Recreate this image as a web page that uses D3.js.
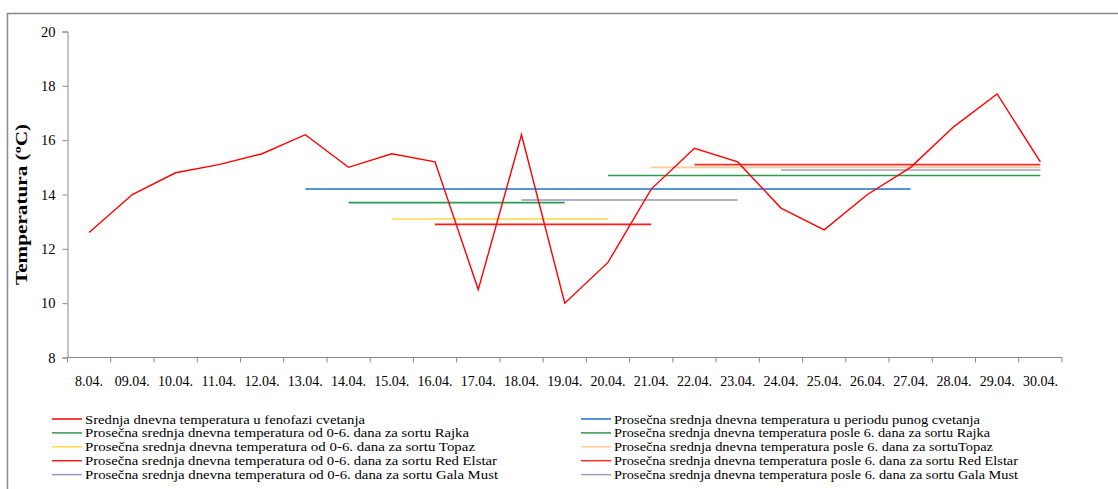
<!DOCTYPE html>
<html>
<head>
<meta charset="utf-8">
<script src="https://cdn.jsdelivr.net/npm/d3@7"></script>
<style>
  html, body { margin: 0; padding: 0; background: #fff; }
  svg { display: block; }
  text { font-family: "Liberation Serif", "Times New Roman", serif; fill: #000; }
</style>
</head>
<body>
<svg id="chart" width="1118" height="489"></svg>
<script>
// ---- data ----
const categories = ["8.04.", "09.04.", "10.04.", "11.04.", "12.04.", "13.04.", "14.04.", "15.04.", "16.04.", "17.04.", "18.04.", "19.04.", "20.04.", "21.04.", "22.04.", "23.04.", "24.04.", "25.04.", "26.04.", "27.04.", "28.04.", "29.04.", "30.04."];
const dailyTemp = [12.6, 14.0, 14.8, 15.1, 15.5, 16.2, 15.0, 15.5, 15.2, 10.5, 16.2, 10.0, 11.5, 14.2, 15.7, 15.2, 13.5, 12.7, 14.0, 15.0, 16.5, 17.7, 15.2];
const yTicks = [8, 10, 12, 14, 16, 18, 20];

// average segments: name, value, from category, to category
const avgNames = [
  "Prosečna srednja dnevna temperatura u periodu punog cvetanja",
  "Prosečna srednja dnevna temperatura od 0-6. dana za sortu Rajka",
  "Prosečna srednja dnevna temperatura posle 6. dana za sortu Rajka",
  "Prosečna srednja dnevna temperatura od 0-6. dana za sortu Topaz",
  "Prosečna srednja dnevna temperatura posle 6. dana za sortuTopaz",
  "Prosečna srednja dnevna temperatura od 0-6. dana za sortu Red Elstar",
  "Prosečna srednja dnevna temperatura posle 6. dana za sortu Red Elstar",
  "Prosečna srednja dnevna temperatura od 0-6. dana za sortu Gala Must",
  "Prosečna srednja dnevna temperatura posle 6. dana za sortu Gala Must"
];
const avgValues = [14.2, 13.7, 14.7, 13.1, 15.0, 12.9, 15.1, 13.8, 14.9];
const avgFrom = ["13.04.", "14.04.", "20.04.", "15.04.", "21.04.", "16.04.", "22.04.", "18.04.", "24.04."];
const avgTo   = ["27.04.", "19.04.", "30.04.", "20.04.", "30.04.", "21.04.", "30.04.", "23.04.", "30.04."];
const avgColors = ["#1f6fd6", "#2e9a52", "#2e9a52", "#ffd848", "#ffcc9a", "#ff1a1a", "#ff2a2a", "#9797bd", "#9f9fc4"];
const dailyName = "Srednja dnevna temperatura u fenofazi cvetanja";
const dailyColor = "#ff0000";
const yTitle = "Temperatura (ºC)";

// ---- layout ----
const svg = d3.select("#chart");
const mLeft = 67.5, mRight = 1062, mTop = 31.5, mBottom = 357.5;
// rendered text widths of the legend entries (layout, left column then right column)
const legLeftWidths = [280, 384, 390, 412, 413];
const legRightWidths = [366, 376, 379, 404, 404];

// outer frame (top + left edges visible)
svg.append("path")
  .attr("d", `M7.5,489 V13.5 H1118`)
  .attr("fill", "none").attr("stroke", "#888").attr("stroke-width", 1.5);

const x = d3.scaleBand().domain(categories).range([mLeft, mRight]).paddingInner(0).paddingOuter(0);
const y = d3.scaleLinear().domain([8, 20]).range([mBottom, mTop]);
const cx = c => x(c) + x.bandwidth() / 2;

// y axis
const yAxis = svg.append("g").attr("transform", `translate(${mLeft},0)`)
  .call(d3.axisLeft(y).tickValues(yTicks).tickSize(5).tickPadding(7).tickFormat(d3.format("d")));
yAxis.selectAll("path, line").attr("stroke", "#888");
yAxis.selectAll("text").attr("font-size", "14.5px").attr("font-family", "Liberation Serif, serif");

// x axis (ticks at band boundaries)
const xAxisG = svg.append("g").attr("transform", `translate(0,${mBottom})`);
xAxisG.append("line").attr("x1", mLeft).attr("x2", mRight).attr("stroke", "#888");
const bounds = categories.map(c => x(c)).concat([mRight]);
xAxisG.selectAll("line.tk").data(bounds).enter().append("line")
  .attr("class", "tk").attr("x1", d => d).attr("x2", d => d).attr("y1", 0).attr("y2", 5)
  .attr("stroke", "#888");
xAxisG.selectAll("text").data(categories).enter().append("text")
  .attr("x", d => cx(d)).attr("y", 28).attr("text-anchor", "middle")
  .attr("font-size", "14px").text(d => d);

// y title
svg.append("text")
  .attr("transform", `translate(26.5,204.5) rotate(-90)`)
  .attr("text-anchor", "middle").attr("font-weight", "bold").attr("font-size", "16px")
  .attr("textLength", 161).attr("lengthAdjust", "spacingAndGlyphs")
  .text(yTitle);

// average segments
avgNames.forEach((n, i) => {
  svg.append("line")
    .attr("x1", cx(avgFrom[i])).attr("x2", cx(avgTo[i]))
    .attr("y1", y(avgValues[i])).attr("y2", y(avgValues[i]))
    .attr("stroke", avgColors[i]).attr("stroke-width", 1.6);
});

// daily line
svg.append("path")
  .datum(dailyTemp)
  .attr("fill", "none").attr("stroke", dailyColor).attr("stroke-width", 1.4)
  .attr("d", d3.line().x((d, i) => cx(categories[i])).y(d => y(d)));

// legend
const legLeft = [ {name: dailyName, color: dailyColor} ];
const legRight = [];
[1, 3, 5, 7].forEach(i => legLeft.push({name: avgNames[i], color: avgColors[i]}));
[0, 2, 4, 6, 8].forEach(i => legRight.push({name: avgNames[i], color: avgColors[i]}));
function drawLegend(items, x0, widths) {
  items.forEach((it, k) => {
    const yy = 419 + k * 13.9;
    svg.append("line").attr("x1", x0).attr("x2", x0 + 30).attr("y1", yy).attr("y2", yy)
      .attr("stroke", it.color).attr("stroke-width", 1.5);
    svg.append("text").attr("x", x0 + 33).attr("y", yy + 4.5)
      .attr("font-size", "13.5px")
      .attr("textLength", widths[k]).attr("lengthAdjust", "spacingAndGlyphs")
      .text(it.name);
  });
}
drawLegend(legLeft, 52, legLeftWidths);
drawLegend(legRight, 581, legRightWidths);
</script>
</body>
</html>
